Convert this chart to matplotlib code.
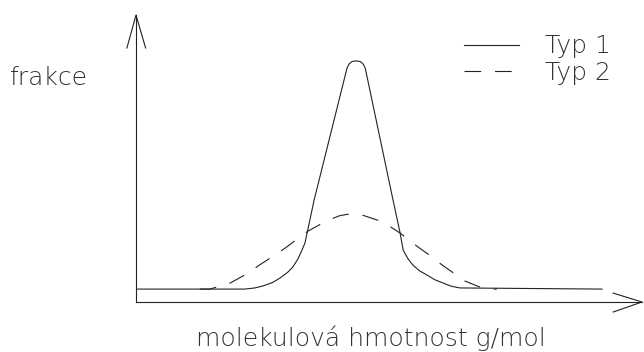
import matplotlib
matplotlib.use('Agg')
import matplotlib.pyplot as plt

# curve data (x: molecular weight, arbitrary units; y: fraction)
typ1_x = [0, 21.5, 23.5, 25.1, 27.0, 28.5, 30.0, 31.0, 32.0, 32.8, 33.4, 35.2, 41.7, 42.1, 42.7, 43.5,
          44.3, 44.9, 45.3, 50.8, 52.2, 52.8, 53.7, 54.7, 56.0, 57.5, 59.0, 60.7, 62.3, 64.0, 92.1]
typ1_y = [0.045, 0.045, 0.049, 0.056, 0.068, 0.084, 0.104, 0.122, 0.150, 0.181, 0.206, 0.355, 0.815,
          0.829, 0.838, 0.840, 0.838, 0.829, 0.815, 0.355, 0.240, 0.181, 0.152, 0.129, 0.109, 0.094,
          0.078, 0.066, 0.055, 0.049, 0.045]

typ2_x = [12.6, 14.6, 18.6, 21.9, 24.5, 26.9, 29.5, 31.6, 34.0, 37.6, 40.3, 42.3, 44.7, 48.8, 52.2,
          55.7, 57.7, 60.5, 65.0, 68.0, 69.4, 71.3]
typ2_y = [0.045, 0.045, 0.066, 0.098, 0.130, 0.157, 0.188, 0.216, 0.247, 0.282, 0.301, 0.307, 0.303,
          0.279, 0.240, 0.192, 0.167, 0.129, 0.073, 0.052, 0.045, 0.045]

labels = ['Typ 1', 'Typ 2']
ylabel = 'frakce'
xlabel = 'molekulová hmotnost g/mol'

plt.rcParams['lines.scale_dashes'] = False
tc = '#333333'
fsize = 18
font = dict(family='DejaVu Sans', weight='ultralight', size=fsize, color=tc)

fig = plt.figure(figsize=(6.44, 3.52), dpi=100)
ax = fig.add_axes([136 / 644, 50 / 352, 506 / 644, 287 / 352])
ax.set_xlim(0, 100)
ax.set_ylim(0, 1)
ax.axis('off')

lc = '#222222'
ax.plot(typ1_x, typ1_y, color=lc, lw=0.8, label=labels[0])
ax.plot(typ2_x, typ2_y, color=lc, lw=0.8, dashes=(12, 10), label=labels[1])

# hand drawn axes with open arrow heads
ax.plot([0, 0], [0, 1], color=lc, lw=0.8, transform=ax.transAxes, clip_on=False)
ax.plot([-0.018, 0, 0.019], [0.885, 1, 0.885], color=lc, lw=0.8, transform=ax.transAxes, clip_on=False)
ax.plot([0, 1], [0, 0], color=lc, lw=0.8, transform=ax.transAxes, clip_on=False)
ax.plot([0.943, 1, 0.943], [0.031, 0, -0.035], color=lc, lw=0.8, transform=ax.transAxes, clip_on=False)

leg = ax.legend(loc='upper left', bbox_to_anchor=(441 / 644, 1 - 12 / 352), bbox_transform=fig.transFigure,
                frameon=False, handlelength=2.2, handletextpad=1.05, labelspacing=0.1,
                prop=dict(family='DejaVu Sans', weight='ultralight', size=fsize))
for t in leg.get_texts():
    t.set_color(tc)

fig.text(10 / 644, 1 - 85 / 352, ylabel, va='baseline', ha='left', **font)
fig.text(196 / 644, 1 - 346 / 352, xlabel, va='baseline', ha='left', **font)

fig.savefig('out.png', dpi=100)
